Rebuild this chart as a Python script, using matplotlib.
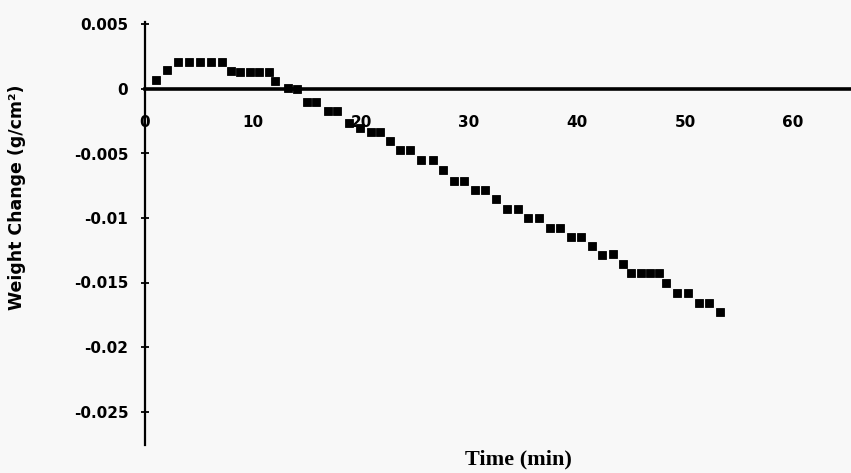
import matplotlib
matplotlib.use("Agg")
import matplotlib.pyplot as plt

# Weight change of the sample over time
time_min = [1.0, 2.0, 3.1, 4.1, 5.1, 6.1, 7.1, 8.0, 8.8, 9.7, 10.6, 11.5, 12.0,
            13.2, 14.1, 15.0, 15.8, 16.9, 17.8, 18.9, 19.9, 20.9, 21.8, 22.7,
            23.6, 24.5, 25.6, 26.7, 27.6, 28.6, 29.5, 30.6, 31.5, 32.5, 33.5,
            34.5, 35.5, 36.5, 37.5, 38.4, 39.4, 40.4, 41.4, 42.3, 43.3, 44.3,
            45.0, 45.9, 46.8, 47.6, 48.2, 49.3, 50.3, 51.3, 52.2, 53.2]
weight_change = [0.0007, 0.0015, 0.0021, 0.0021, 0.0021, 0.0021, 0.0021, 0.0014,
                 0.0013, 0.0013, 0.0013, 0.0013, 0.0006,
                 0.0001, 0.0000, -0.0010, -0.0010, -0.0017, -0.0017, -0.0026,
                 -0.0030, -0.0033, -0.0033, -0.0040,
                 -0.0047, -0.0047, -0.0055, -0.0055, -0.0063, -0.0071, -0.0071,
                 -0.0078, -0.0078, -0.0085, -0.0093, -0.0093, -0.0100, -0.0100,
                 -0.0108, -0.0108, -0.0115, -0.0115, -0.0122, -0.0129, -0.0128,
                 -0.0136, -0.0143, -0.0143, -0.0143, -0.0143, -0.0150, -0.0158,
                 -0.0158, -0.0166, -0.0166, -0.0173]

x_ticks = [0, 10, 20, 30, 40, 50, 60]
y_ticks = [0.005, 0, -0.005, -0.01, -0.015, -0.02, -0.025]
y_tick_labels = ["0.005", "0", "-0.005", "-0.01", "-0.015", "-0.02", "-0.025"]

W, H = 851, 473
bg = "#f8f8f8"
fig = plt.figure(figsize=(W / 100, H / 100), dpi=100, facecolor=bg)

left_px, right_px, top_px, bottom_px = 145, 851, 22, 445
ax = fig.add_axes([left_px / W, (H - bottom_px) / H,
                   (right_px - left_px) / W, (bottom_px - top_px) / H])
ax.set_facecolor(bg)

px_per_min = 10.8
px_per_unit = 12900.0
zero_px = 89
ax.set_xlim(0, (right_px - left_px) / px_per_min)
ax.set_ylim(-(bottom_px - zero_px) / px_per_unit, (zero_px - top_px) / px_per_unit)

ax.plot(time_min, weight_change, linestyle="none", marker="s", markersize=5.2,
        color="black", markeredgewidth=0.6, zorder=3)

for side in ("top", "right"):
    ax.spines[side].set_visible(False)
ax.spines["left"].set_linewidth(1.6)
ax.spines["bottom"].set_position(("data", 0))
ax.spines["bottom"].set_linewidth(2.6)

ax.set_xticks(x_ticks)
ax.set_xticklabels([str(t) for t in x_ticks], fontsize=11, fontweight="bold")
ax.tick_params(axis="x", length=0, pad=19)

ax.set_yticks(y_ticks)
ax.set_yticklabels(y_tick_labels, fontsize=11, fontweight="bold")
ax.tick_params(axis="y", direction="inout", length=6, width=1.3, pad=9)

fig.text(17 / W, 1 - 197 / H, "Weight Change (g/cm\u00b2)", rotation=90,
         ha="center", va="center", fontsize=12.5, fontweight="bold")
fig.text(518 / W, 1 - 459 / H, "Time (min)", ha="center", va="center",
         fontsize=16, fontweight="bold", family="Liberation Serif")

fig.savefig("out.png", dpi=100, facecolor=bg)
